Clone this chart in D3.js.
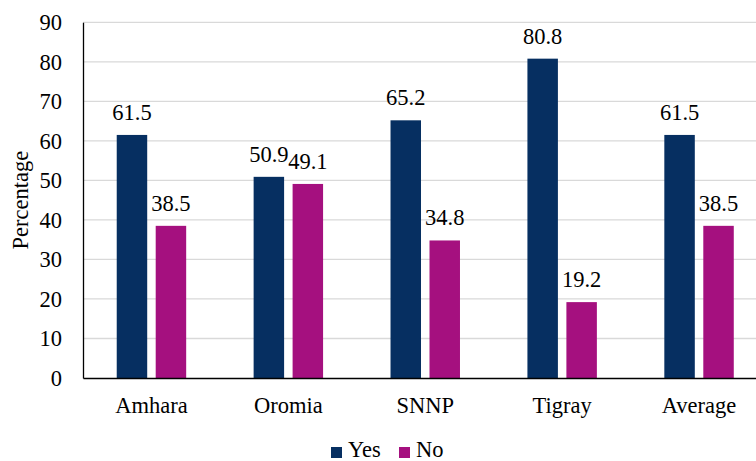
<!DOCTYPE html>
<html><head><meta charset="utf-8">
<script src="https://cdn.jsdelivr.net/npm/d3@7"></script>
<style>body{margin:0;background:#fff}svg{display:block}</style>
</head><body><svg id="c" width="756" height="461"></svg>
<script>
const categories = ["Amhara","Oromia","SNNP","Tigray","Average"];
const series = ["Yes","No"];
const yesValues = [61.5, 50.9, 65.2, 80.8, 61.5];
const noValues = [38.5, 49.1, 34.8, 19.2, 38.5];
const yTicks = [0,10,20,30,40,50,60,70,80,90];
const colors = ["#062f61","#a5107f"];

const FONT = "'Times New Roman', 'Liberation Serif', Tinos, 'DejaVu Serif', serif";
const svg = d3.select("#c").attr("font-family", FONT);
const mLeft = 83, mRight = 767.5, mTop = 22.3, mBottom = 378;
const fs = 22.5;

const x0 = d3.scaleBand().domain(categories).range([mLeft, mRight]).paddingInner(0.4927).paddingOuter(0.4927/2);
const x1 = d3.scaleBand().domain(series).range([0, x0.bandwidth()]).paddingInner(0.218);
const y = d3.scaleLinear().domain([0, 90]).range([mBottom, mTop]);

// gridlines
svg.append("g").selectAll("line").data(yTicks.filter(d=>d>0)).join("line")
  .attr("x1", mLeft).attr("x2", mRight).attr("y1", d=>y(d)).attr("y2", d=>y(d))
  .attr("stroke", "#d9d9d9").attr("stroke-width", 1.3);

// y axis
const yAxis = svg.append("g").attr("transform", `translate(${mLeft},0)`)
  .call(d3.axisLeft(y).tickValues(yTicks).tickSize(0).tickPadding(21));
yAxis.attr("font-family", FONT).attr("font-size", fs);
yAxis.select(".domain").attr("stroke", "#000").attr("stroke-width", 1.3);
yAxis.selectAll("text").attr("fill", "#000");

const data = categories.map((c,i)=>({cat:c, vals:[{s:"Yes",v:yesValues[i]},{s:"No",v:noValues[i]}]}));

const g = svg.append("g").selectAll("g").data(data).join("g")
  .attr("transform", d=>`translate(${x0(d.cat)},0)`);
g.selectAll("rect").data(d=>d.vals).join("rect")
  .attr("x", d=>x1(d.s)).attr("width", x1.bandwidth())
  .attr("y", d=>y(d.v)).attr("height", d=>y(0)-y(d.v))
  .attr("fill", (d,i)=>colors[i]);
g.selectAll("text").data(d=>d.vals).join("text")
  .attr("x", d=>x1(d.s)+x1.bandwidth()/2).attr("y", d=>y(d.v)-15)
  .attr("text-anchor", "middle").attr("font-size", fs).attr("fill", "#000")
  .text(d=>d.v.toFixed(1));

// x axis
const xAxis = svg.append("g").attr("transform", `translate(0,${mBottom})`)
  .call(d3.axisBottom(x0).tickSize(0).tickPadding(19));
xAxis.attr("font-family", FONT).attr("font-size", fs);
xAxis.select(".domain").attr("stroke", "#000").attr("stroke-width", 1.5);
xAxis.selectAll("text").attr("fill", "#000");

// y label
svg.append("text").attr("transform", `translate(28,${(mTop+mBottom)/2}) rotate(-90)`)
  .attr("text-anchor", "middle").attr("font-size", fs).text("Percentage");

// legend
const leg = svg.append("g");
const legX = [331, 399];
series.forEach((s,i)=>{
  leg.append("rect").attr("x", legX[i]).attr("y", 447).attr("width", 11).attr("height", 11).attr("fill", colors[i]);
  leg.append("text").attr("x", legX[i]+17).attr("y", 457).attr("font-size", fs).text(s);
});
</script></body></html>
